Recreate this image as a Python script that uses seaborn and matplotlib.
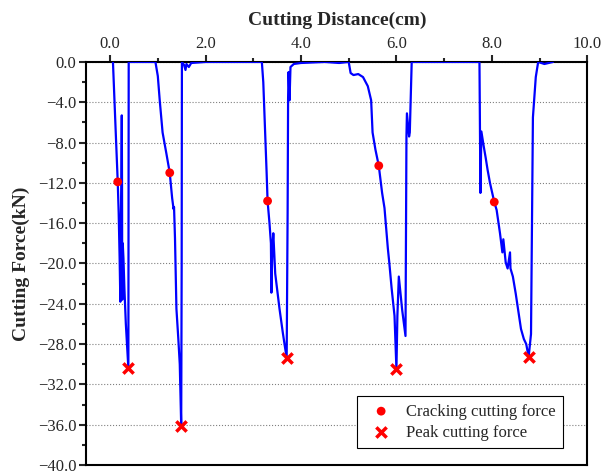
import pandas as pd
import matplotlib
matplotlib.use("Agg")
import matplotlib.pyplot as plt
import seaborn as sns
from matplotlib.ticker import MultipleLocator, FuncFormatter

# cutting force curve (distance cm, force kN)
distance = [0.06, 0.08, 0.11, 0.14, 0.16, 0.18, 0.20, 0.215, 0.225, 0.235, 0.245, 0.25, 0.255,
            0.265, 0.28, 0.30, 0.33, 0.36, 0.383, 0.386, 0.39, 0.60, 0.95,
            1.00, 1.04, 1.10, 1.18, 1.25, 1.30, 1.33, 1.34, 1.36, 1.39, 1.43, 1.46, 1.48, 1.49,
            1.50, 1.505, 1.55, 1.58, 1.60, 1.65, 1.70, 2.0, 2.6, 3.18,
            3.21, 3.25, 3.28, 3.30, 3.34, 3.37, 3.38, 3.40, 3.42, 3.46, 3.55, 3.62, 3.67, 3.70,
            3.72, 3.73, 3.74, 3.76, 3.78, 3.85, 4.0, 4.5, 4.8, 5.0,
            5.04, 5.10, 5.20, 5.30, 5.40, 5.47, 5.50, 5.56, 5.63, 5.70, 5.75, 5.82, 5.85, 5.90,
            5.96, 6.00, 6.02, 6.05, 6.12, 6.17, 6.19, 6.21, 6.22, 6.265, 6.28, 6.32, 7.0, 7.74,
            7.75, 7.76, 7.78, 7.80, 7.83, 7.87, 7.91, 7.96, 8.05, 8.10, 8.17, 8.22, 8.24, 8.29,
            8.33, 8.38, 8.39, 8.44, 8.50, 8.61, 8.67, 8.72, 8.77, 8.82, 8.86, 8.92, 8.97, 9.1, 9.28]
force = [0.0, -2.5, -6.0, -9.5, -11.9, -15.0, -19.5, -23.8, -16.0, -12.5, -5.3, -12.0, -23.6,
         -18.0, -19.5, -22.5, -26.0, -28.5, -30.4, -15.0, 0.0, 0.0, 0.0,
         -1.4, -3.8, -7.0, -9.1, -11.0, -13.5, -14.6, -14.4, -17.5, -24.5, -27.5, -30.0, -34.0, -36.1,
         -20.0, 0.0, -0.3, -0.8, -0.2, -0.5, -0.1, 0.0, 0.0, 0.0,
         -2.0, -7.0, -11.0, -13.8, -16.0, -18.0, -22.9, -18.5, -17.0, -21.0, -24.5, -26.9, -28.5, -29.4,
         -15.0, -3.6, -1.0, -3.8, -0.5, -0.2, -0.1, 0.0, -0.1, 0.0,
         -1.1, -1.3, -1.2, -1.5, -2.4, -3.8, -7.0, -8.7, -10.3, -13.0, -14.5, -18.5, -19.9, -22.5,
         -25.2, -30.5, -25.2, -21.3, -24.6, -26.5, -27.2, -7.4, -5.1, -7.4, -7.0, 0.0, 0.0, 0.0,
         -6.0, -13.0, -6.9, -7.5, -8.4, -9.5, -10.7, -12.0, -13.9, -14.7, -17.0, -18.9, -17.6, -19.9,
         -20.5, -18.9, -20.5, -21.3, -23.0, -26.5, -27.5, -28.0, -29.3, -27.0, -5.5, -1.5, 0.0, -0.2, 0.0]

crack_x = [0.16, 1.25, 3.30, 5.63, 8.05]
crack_y = [-11.9, -11.0, -13.8, -10.3, -13.9]
peak_x = [0.383, 1.49, 3.70, 6.00, 8.77]
peak_y = [-30.4, -36.1, -29.4, -30.5, -29.3]

sns.set_style("ticks")
plt.rcParams['font.family'] = ['Liberation Serif', 'DejaVu Serif']

fig = plt.figure(figsize=(6.03, 4.73), dpi=100)
ax = fig.add_axes([0.143, 0.017, 0.831, 0.852])

curve = pd.DataFrame({"x": distance, "y": force})
sns.lineplot(data=curve, x="x", y="y", sort=False, estimator=None, color="#0000ff",
             linewidth=1.6, ax=ax, zorder=3)
sns.scatterplot(x=crack_x, y=crack_y, color="red", marker="o", s=40, edgecolor="none",
                label="Cracking cutting force", ax=ax, zorder=4)
sns.scatterplot(x=peak_x, y=peak_y, color="red", marker="x", s=55, linewidth=2.5,
                label="Peak cutting force", ax=ax, zorder=4)

ax.set_xlim(-0.5, 10.0)
ax.set_ylim(-40, 0)
ax.xaxis.tick_top()
ax.xaxis.set_label_position('top')
ax.xaxis.set_major_locator(MultipleLocator(2))
ax.xaxis.set_minor_locator(MultipleLocator(1))
ax.yaxis.set_major_locator(MultipleLocator(4))
ax.yaxis.set_minor_locator(MultipleLocator(2))
fmt = FuncFormatter(lambda v, p: ("%.1f" % v).replace("-", "\u2212") if abs(v) > 1e-9 else "0.0")
ax.xaxis.set_major_formatter(fmt)
ax.yaxis.set_major_formatter(fmt)
ax.tick_params(axis='x', which='both', top=True, bottom=False, direction='out',
               labelsize=12, width=1.5, pad=2)
ax.tick_params(axis='y', which='both', left=True, right=False, direction='out',
               labelsize=12, width=1.5, pad=2)
ax.tick_params(which='major', length=5)
ax.tick_params(which='minor', length=3)

ax.grid(axis='y', which='major', linestyle=':', color='gray', linewidth=0.8)
for s in ax.spines.values():
    s.set_linewidth(1.5)
    s.set_color('black')

ax.set_xlabel("Cutting Distance(cm)", fontsize=14, fontweight='bold', labelpad=8)
ax.set_ylabel("Cutting Force(kN)", fontsize=14, fontweight='bold', labelpad=6)

leg = ax.legend(loc='lower right', bbox_to_anchor=(0.952, 0.042), borderaxespad=0,
                fontsize=12, fancybox=False, edgecolor='black', framealpha=1,
                handletextpad=0.5, borderpad=0.45, labelspacing=0.3)
leg.get_frame().set_linewidth(0.8)

fig.savefig("out.png", dpi=100)
